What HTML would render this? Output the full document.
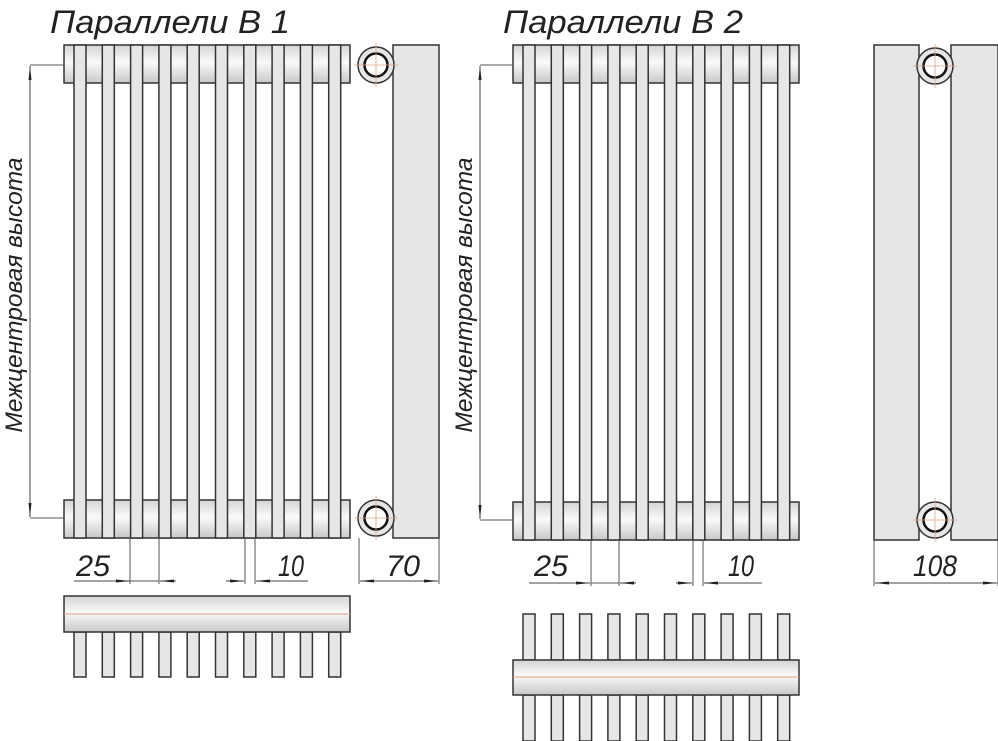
<!DOCTYPE html>
<html><head><meta charset="utf-8"><style>
html,body{margin:0;padding:0;background:#fff;width:998px;height:741px;overflow:hidden}
svg{display:block}
text{font-family:"Liberation Sans","DejaVu Sans",sans-serif;font-style:italic;fill:#222}
</style></head><body>
<svg id="s" width="998" height="741" viewBox="0 0 998 741" xmlns="http://www.w3.org/2000/svg">
<defs>
<linearGradient id="hg" x1="0" y1="0" x2="0" y2="1">
<stop offset="0" stop-color="#d4d4d4"/><stop offset="0.45" stop-color="#fafafa"/><stop offset="1" stop-color="#c8c8c8"/>
</linearGradient>
<marker id="ar" markerWidth="14" markerHeight="6" refX="14" refY="3" orient="auto" markerUnits="userSpaceOnUse">
<path d="M0,1.5 L14,3 L0,4.5 Z" fill="#222"/></marker>
</defs>
<text x="50" y="33" font-size="32" textLength="240" lengthAdjust="spacingAndGlyphs">Параллели В 1</text>
<text x="503" y="33" font-size="32" textLength="240" lengthAdjust="spacingAndGlyphs">Параллели В 2</text>
<g id="g"></g>
<text transform="translate(22,295) rotate(-90)" text-anchor="middle" font-size="24" textLength="275" lengthAdjust="spacingAndGlyphs">Межцентровая высота</text>
<text transform="translate(472,295) rotate(-90)" text-anchor="middle" font-size="24" textLength="275" lengthAdjust="spacingAndGlyphs">Межцентровая высота</text>
<text x="76" y="576" font-size="30" textLength="34" lengthAdjust="spacingAndGlyphs">25</text>
<text x="278" y="576" font-size="30" textLength="26" lengthAdjust="spacingAndGlyphs">10</text>
<text x="386" y="576" font-size="30" textLength="34" lengthAdjust="spacingAndGlyphs">70</text>
<text x="534" y="576" font-size="30" textLength="34" lengthAdjust="spacingAndGlyphs">25</text>
<text x="728" y="576" font-size="30" textLength="26" lengthAdjust="spacingAndGlyphs">10</text>
<text x="913" y="576" font-size="30" textLength="44" lengthAdjust="spacingAndGlyphs">108</text>
</svg>
<script>
var g=document.getElementById('g'),h='';
function R(x,y,w,hh,f){h+='<rect x="'+x+'" y="'+y+'" width="'+w+'" height="'+hh+'" fill="'+f+'" stroke="#333" stroke-width="1.5"/>';}
function L(x1,y1,x2,y2,c,w,m){h+='<line x1="'+x1+'" y1="'+y1+'" x2="'+x2+'" y2="'+y2+'" stroke="'+(c||'#555')+'" stroke-width="'+(w||1)+'"'+(m?' marker-end="url(#ar)"':'')+'/>';}
function C(cx,cy){h+='<circle cx="'+cx+'" cy="'+cy+'" r="18" fill="#e6e6e6" stroke="#333" stroke-width="1.5"/><circle cx="'+cx+'" cy="'+cy+'" r="11.5" fill="#fff" stroke="#111" stroke-width="2.5"/>';
L(cx-22,cy,cx+22,cy,'#e0a080',0.8);L(cx,cy-22,cx,cy+22,'#e0a080',0.8);}
function front(x0,t0,hy1,hy2){
 R(x0,hy1,286,38,'url(#hg)');R(x0,hy2,286,38,'url(#hg)');
 for(var i=0;i<10;i++){R(t0+i*28.3,45,12,hy2+38-45,'#e6e6e6');}
}
front(64,74,45,500);
front(513,523,45,502);
R(393,45,46,493,'#e6e6e6');C(376,65);C(376,518);
R(874,45,45,495,'#e6e6e6');R(951,45,47,495,'#e6e6e6');C(935,66);C(935,520);
L(30,65,64,65);L(30,518,64,518);L(30,290,30,66,'#444',1,1);L(30,290,30,517,'#444',1,1);
L(480,65,513,65);L(480,520,513,520);L(480,290,480,66,'#444',1,1);L(480,290,480,519,'#444',1,1);
L(130,538,130,584);L(159,538,159,584);L(74,581,130,581,'#444',1,1);L(176,581,160,581,'#444',1,1);L(130,581,159,581);
L(245,538,245,584);L(255,538,255,584);L(226,581,244,581,'#444',1,1);L(308,581,256,581,'#444',1,1);
L(359,538,359,584);L(439,538,439,584);L(399,581,360,581,'#444',1,1);L(399,581,438,581,'#444',1,1);
L(591,540,591,586);L(619,540,619,586);L(529,583,590,583,'#444',1,1);L(636,583,620,583,'#444',1,1);L(591,583,619,583);
L(693,540,693,586);L(703,540,703,586);L(676,583,692,583,'#444',1,1);L(762,583,704,583,'#444',1,1);
L(874,540,874,586);L(998,540,998,586);L(936,583,875,583,'#444',1,1);L(936,583,997,583,'#444',1,1);
for(var i=0;i<10;i++){R(74+i*28.3,632,12,45,'#e6e6e6');}
R(64,596,286,36,'url(#hg)');L(64,614,350,614,'#e0a080',0.9);
for(var i=0;i<10;i++){R(523+i*28.3,614,12,46,'#e6e6e6');R(523+i*28.3,695,12,46,'#e6e6e6');}
R(513,660,286,35,'url(#hg)');L(513,677,799,677,'#e0a080',0.9);
g.innerHTML=h;
</script>
</body></html>
